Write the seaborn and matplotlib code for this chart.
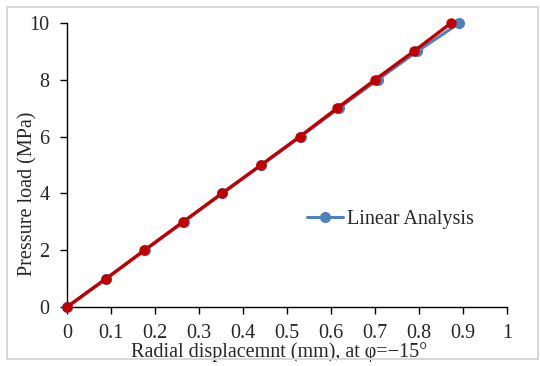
import matplotlib
matplotlib.use("Agg")
import matplotlib.pyplot as plt
from matplotlib.patches import Rectangle
import seaborn as sns
import pandas as pd

# Pressure load steps (MPa)
pressure = [0, 1, 2, 3, 4, 5, 6, 7, 8, 9, 10]
# Radial displacement (mm) at phi = -15 deg
linear_disp = [0, 0.089, 0.177, 0.265, 0.353, 0.442, 0.531, 0.618, 0.706, 0.796, 0.892]
nonlinear_disp = [0, 0.089, 0.176, 0.264, 0.352, 0.441, 0.529, 0.614, 0.700, 0.788, 0.873]

x_ticks = [0, 0.1, 0.2, 0.3, 0.4, 0.5, 0.6, 0.7, 0.8, 0.9, 1]
x_tick_labels = ["0", "0.1", "0.2", "0.3", "0.4", "0.5", "0.6", "0.7", "0.8", "0.9", "1"]
y_ticks = [0, 2, 4, 6, 8, 10]

sns.set_style("white")
plt.rcParams["font.family"] = ["Liberation Serif", "DejaVu Serif"]

df_lin = pd.DataFrame({"disp": linear_disp, "p": pressure})
df_non = pd.DataFrame({"disp": nonlinear_disp, "p": pressure})

fig = plt.figure(figsize=(5.4, 3.66), dpi=100)
W, H = 540, 366
ax = fig.add_axes([67 / W, 1 - 307 / H, 440 / W, 284 / H])

sns.lineplot(data=df_lin, x="disp", y="p", ax=ax, color="#4F81BD", lw=2.2,
             marker="o", markersize=8, markeredgewidth=0, label="Linear Analysis",
             sort=False, zorder=2, clip_on=False)
sns.lineplot(data=df_non, x="disp", y="p", ax=ax, color="#C00000", lw=2.4,
             marker="o", markersize=7.5, markeredgewidth=0, sort=False, zorder=3,
             clip_on=False)

ax.set_xlim(0, 1)
ax.set_ylim(0, 10)
ax.set_xticks(x_ticks)
ax.set_xticklabels(x_tick_labels)
ax.set_yticks(y_ticks)
for s in ["top", "right"]:
    ax.spines[s].set_visible(False)
for s in ["left", "bottom"]:
    ax.spines[s].set_color("black")
    ax.spines[s].set_linewidth(1.0)
ax.tick_params(axis="x", direction="out", length=5, width=1, color="black",
               labelsize=14.5, pad=7, bottom=True)
ax.tick_params(axis="y", direction="out", length=5, width=1, color="black",
               labelsize=14.5, pad=7.5, left=True)
ax.set_xlabel("Radial displacemnt (mm), at φ=\u221215°", fontsize=14.5)
ax.xaxis.set_label_coords((279 - 67) / 440, -(352 - 307) / 284)
ax.xaxis.label.set_va("center")
ax.set_ylabel("Pressure load (MPa)", fontsize=14.5)
ax.yaxis.set_label_coords(-(67 - 28) / 440, (307 - 194) / 284)
ax.yaxis.label.set_va("center")

leg = ax.legend(loc="center left", bbox_to_anchor=((307 - 67) / 440, (307 - 219) / 284),
                frameon=False, fontsize=14.5, handlelength=1.8, handletextpad=0.2,
                borderpad=0, borderaxespad=0)

fig.patches.append(Rectangle((7 / W, 1 - 359 / H), 531 / W, 352 / H,
                             transform=fig.transFigure, fill=False,
                             edgecolor="#d9d9d9", lw=1.5))

fig.savefig("out.png", dpi=100)
